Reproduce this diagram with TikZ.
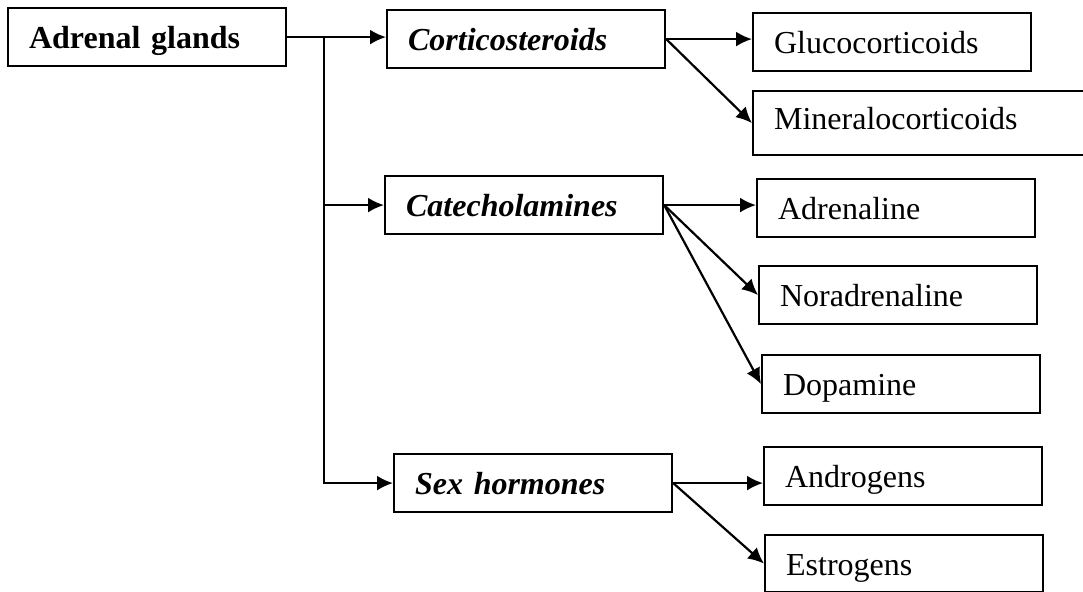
\documentclass[tikz,border=0pt]{standalone}
\usepackage{fontspec}
\setmainfont{Liberation Serif}
\usetikzlibrary{arrows.meta}
\usetikzlibrary{calc}
\tikzset{>={Latex[length=8pt,width=7.5pt]}}
\tikzset{
    box/.style={draw, line width=1.1pt, anchor=north west, align=left, inner xsep=10.5pt, inner ysep=0pt, text width=#1, text height=14pt, text depth=2.5pt, minimum height=29pt},
    box/.default=118pt,
}
\begin{document}
\begin{tikzpicture}[x=0.5pt, y=-0.5pt, font=\fontsize{16}{19}\selectfont, line width=1.1pt]
		\useasboundingbox (0,0) rectangle (1083,592);
		\node[box] (adrenal) at (7,7) {\textbf{Adrenal glands}};
		\node[box] (cortico) at (386,9) {\textbf{\textit{Corticosteroids}}};
		\node[box] (catech) at (384,175) {\textbf{\textit{Catecholamines}}};
		\node[box] (sexh) at (393,453) {\textbf{\textit{Sex hormones}}};
		\node[box] (gluco) at (752,12) {Glucocorticoids};
		\node[box=149pt, minimum height=32pt, text height=12pt, text depth=6pt] (mineral) at (752,90) {Mineralocorticoids};
		\node[box] (adren) at (756,178) {Adrenaline};
		\node[box] (noradr) at (758,265) {Noradrenaline};
		\node[box] (dopa) at (761,354) {Dopamine};
		\node[box] (andro) at (763,446) {Androgens};
		\node[box, minimum height=28.5pt] (estro) at (764,534) {Estrogens};
		\coordinate (fork) at ($(adrenal.east)+(37,0)$);
		\draw[->] (adrenal.east) -- (adrenal.east -| cortico.west);
		\draw[->] (fork) |- (sexh.west);
		\draw[->] (fork |- catech.west) -- (catech.west);
		\draw[->] (cortico.east) -- (cortico.east -| gluco.west);
		\draw[->] (cortico.east) -- (mineral.west);
		\draw[->] (catech.east) -- (catech.east -| adren.west);
		\draw[->] (catech.east) -- (noradr.west);
		\draw[->] (catech.east) -- (dopa.west);
		\draw[->] (sexh.east) -- (sexh.east -| andro.west);
		\draw[->] (sexh.east) -- (estro.west);
	\end{tikzpicture}
\end{document}
